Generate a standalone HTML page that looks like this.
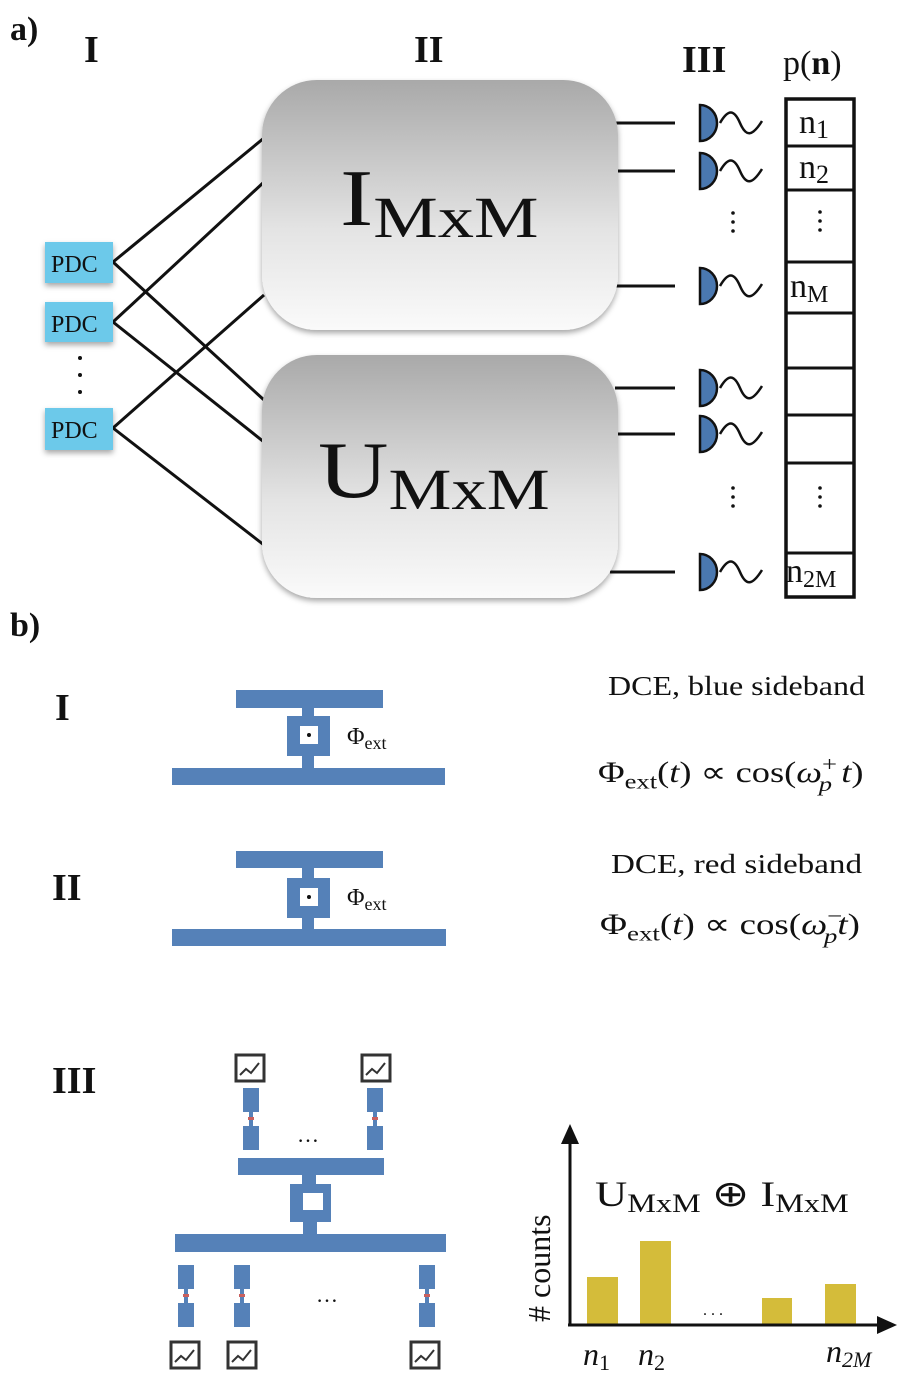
<!DOCTYPE html>
<html><head><meta charset="utf-8"><style>
html,body{margin:0;padding:0;background:#fff;}
svg{display:block;}
text{font-family:"Liberation Serif",serif;fill:#111;}
</style></head><body>
<svg width="900" height="1379" viewBox="0 0 900 1379" xmlns="http://www.w3.org/2000/svg">
<defs>
<linearGradient id="g" x1="0" y1="0" x2="0" y2="1">
<stop offset="0" stop-color="#a9a9a9"/><stop offset="0.6" stop-color="#e4e4e4"/><stop offset="1" stop-color="#fafafa"/>
</linearGradient>
<filter id="sh" x="-10%" y="-10%" width="120%" height="125%"><feDropShadow dx="0" dy="3" stdDeviation="3" flood-color="#000" flood-opacity="0.35"/></filter>
<g id="det"><path d="M700,0 v-18 a17,18 0 0 1 0,36 z" fill="#4a78b0" stroke="#111" stroke-width="2.5"/><path d="M720,0 c8,-14 14,-14 20,0 s12,14 22,-2" fill="none" stroke="#111" stroke-width="2.5"/></g>
<g id="meter"><rect x="0" y="0" width="28" height="26" fill="#fff" stroke="#333" stroke-width="3"/><path d="M4,20 l6,-6 l5,4 l8,-10" fill="none" stroke="#333" stroke-width="2"/></g>
<g id="res"><rect x="0" y="0" width="16" height="24" fill="#5581b8"/><rect x="6" y="24" width="4" height="14" fill="#5581b8"/><rect x="5" y="29" width="6" height="3" fill="#c9605e"/><rect x="0" y="38" width="16" height="24" fill="#5581b8"/></g>
</defs>

<text x="10" y="40" font-size="34" font-weight="bold">a)</text>
<text x="84" y="62" font-size="38" font-weight="bold">I</text>
<text x="414" y="62" font-size="38" font-weight="bold">II</text>
<text x="682" y="72" font-size="38" font-weight="bold">III</text>
<text x="783" y="74" font-size="34">p(<tspan font-weight="bold">n</tspan>)</text>

<g stroke="#111" stroke-width="3">
<line x1="113" y1="262" x2="264" y2="138"/>
<line x1="113" y1="262" x2="264" y2="400"/>
<line x1="113" y1="322" x2="264" y2="182"/>
<line x1="113" y1="322" x2="264" y2="442"/>
<line x1="113" y1="428" x2="264" y2="295"/>
<line x1="113" y1="428" x2="264" y2="545"/>
<line x1="615" y1="123" x2="675" y2="123"/>
<line x1="615" y1="171" x2="675" y2="171"/>
<line x1="615" y1="286" x2="675" y2="286"/>
<line x1="615" y1="388" x2="675" y2="388"/>
<line x1="615" y1="434" x2="675" y2="434"/>
<line x1="610" y1="572" x2="675" y2="572"/>
</g>
<rect x="262" y="80" width="356" height="250" rx="55" fill="url(#g)" filter="url(#sh)"/>
<rect x="262" y="355" width="356" height="243" rx="55" fill="url(#g)" filter="url(#sh)"/>
<g transform="translate(340,225) scale(1.25,1)"><text x="0" y="0" font-size="80">I<tspan font-size="58" dy="12">MxM</tspan></text></g>
<g transform="translate(318,497) scale(1.22,1)"><text x="0" y="0" font-size="80">U<tspan font-size="58" dy="12">MxM</tspan></text></g>

<g fill="#6cc9ea" filter="url(#sh)">
<rect x="45" y="242" width="68" height="41"/><rect x="45" y="302" width="68" height="40"/><rect x="45" y="408" width="68" height="42"/>
</g>
<g font-size="24"><text x="51" y="272">PDC</text><text x="51" y="332">PDC</text><text x="51" y="438">PDC</text></g>
<g fill="#111"><circle cx="80" cy="358" r="2"/><circle cx="80" cy="375" r="2"/><circle cx="80" cy="392" r="2"/></g>

<use href="#det" y="123"/><use href="#det" y="171"/><use href="#det" y="286"/>
<use href="#det" y="388"/><use href="#det" y="434"/><use href="#det" y="572"/>
<g fill="#111"><circle cx="733" cy="213" r="1.8"/><circle cx="733" cy="222" r="1.8"/><circle cx="733" cy="231" r="1.8"/>
<circle cx="733" cy="488" r="1.8"/><circle cx="733" cy="497" r="1.8"/><circle cx="733" cy="506" r="1.8"/>
<circle cx="820" cy="212" r="1.8"/><circle cx="820" cy="221" r="1.8"/><circle cx="820" cy="230" r="1.8"/>
<circle cx="820" cy="488" r="1.8"/><circle cx="820" cy="497" r="1.8"/><circle cx="820" cy="506" r="1.8"/></g>

<rect x="786" y="99" width="68" height="498" fill="none" stroke="#111" stroke-width="3.5"/>
<g stroke="#111" stroke-width="3">
<line x1="786" y1="146" x2="854" y2="146"/><line x1="786" y1="190" x2="854" y2="190"/>
<line x1="786" y1="262" x2="854" y2="262"/><line x1="786" y1="313" x2="854" y2="313"/>
<line x1="786" y1="368" x2="854" y2="368"/><line x1="786" y1="415" x2="854" y2="415"/>
<line x1="786" y1="463" x2="854" y2="463"/><line x1="786" y1="553" x2="854" y2="553"/>
</g>
<g font-size="34"><text x="799" y="133">n<tspan font-size="26" dy="5">1</tspan></text>
<text x="799" y="178">n<tspan font-size="26" dy="5">2</tspan></text>
<text x="790" y="297">n<tspan font-size="24" dy="5">M</tspan></text>
<text x="786" y="582">n<tspan font-size="24" dy="5">2M</tspan></text></g>

<text x="10" y="636" font-size="34" font-weight="bold">b)</text>
<text x="55" y="720" font-size="38" font-weight="bold">I</text>
<text x="52" y="900" font-size="38" font-weight="bold">II</text>
<text x="52" y="1093" font-size="38" font-weight="bold">III</text>

<g fill="#5581b8">
<rect x="236" y="690" width="147" height="18"/><rect x="302" y="708" width="12" height="10"/>
<rect x="287" y="716" width="43" height="40"/><rect x="302" y="756" width="12" height="12"/>
<rect x="172" y="768" width="273" height="17"/>
<rect x="236" y="851" width="147" height="17"/><rect x="302" y="868" width="12" height="10"/>
<rect x="287" y="878" width="43" height="40"/><rect x="302" y="918" width="12" height="12"/>
<rect x="172" y="929" width="274" height="17"/>
<rect x="238" y="1158" width="146" height="17"/><rect x="302" y="1175" width="14" height="10"/>
<rect x="290" y="1184" width="41" height="38"/><rect x="303" y="1222" width="14" height="12"/>
<rect x="175" y="1234" width="271" height="18"/>
</g>
<g fill="#fff"><rect x="300" y="726" width="18" height="18"/><rect x="300" y="888" width="18" height="18"/><rect x="303" y="1193" width="20" height="17"/></g>
<g fill="#111"><circle cx="309" cy="735" r="2"/><circle cx="309" cy="897" r="2"/></g>
<text x="347" y="744" font-size="24">Φ<tspan font-size="18" dy="5">ext</tspan></text>
<text x="347" y="905" font-size="24">Φ<tspan font-size="18" dy="5">ext</tspan></text>

<use href="#res" x="243" y="1088"/><use href="#res" x="367" y="1088"/>
<use href="#res" x="178" y="1265"/><use href="#res" x="234" y="1265"/><use href="#res" x="419" y="1265"/>
<use href="#meter" x="236" y="1055"/><use href="#meter" x="362" y="1055"/>
<use href="#meter" x="171" y="1342"/><use href="#meter" x="228" y="1342"/><use href="#meter" x="411" y="1342"/>
<text x="297" y="1142" font-size="22">…</text>
<text x="316" y="1302" font-size="22">…</text>

<text x="608" y="695" font-size="27" textLength="257" lengthAdjust="spacingAndGlyphs">DCE, blue sideband</text>
<text x="611" y="873" font-size="27" textLength="251" lengthAdjust="spacingAndGlyphs">DCE, red sideband</text>
<g transform="translate(598,782) scale(1.4,1.12)"><text x="0" y="0" font-size="26">Φ<tspan font-size="19" dy="6">ext</tspan><tspan dy="-6">(</tspan><tspan font-style="italic">t</tspan>) ∝ cos(<tspan font-style="italic">ω</tspan><tspan font-size="19" dy="-10">+</tspan><tspan font-size="19" font-style="italic" dx="-13" dy="18">p</tspan><tspan dy="-8" font-style="italic"> t</tspan>)</text></g>
<g transform="translate(600,934) scale(1.42,1.12)"><text x="0" y="0" font-size="26">Φ<tspan font-size="19" dy="6">ext</tspan><tspan dy="-6">(</tspan><tspan font-style="italic">t</tspan>) ∝ cos(<tspan font-style="italic">ω</tspan><tspan font-size="19" dy="-10">−</tspan><tspan font-size="19" font-style="italic" dx="-13" dy="18">p</tspan><tspan dy="-8" font-style="italic">t</tspan>)</text></g>

<g fill="#d4bc3a">
<rect x="587" y="1277" width="31" height="48"/><rect x="640" y="1241" width="31" height="84"/>
<rect x="762" y="1298" width="30" height="27"/><rect x="825" y="1284" width="31" height="41"/>
</g>
<line x1="570" y1="1140" x2="570" y2="1326" stroke="#111" stroke-width="3"/>
<line x1="568" y1="1325" x2="882" y2="1325" stroke="#111" stroke-width="3"/>
<polygon points="570,1124 561,1144 579,1144" fill="#111"/>
<polygon points="897,1325 877,1316 877,1334" fill="#111"/>
<text x="550" y="1322" font-size="32" transform="rotate(-90 550 1322)"># counts</text>
<g transform="translate(595,1206) scale(1.24,1)"><text x="0" y="0" font-size="36">U<tspan font-size="26" dy="6">MxM</tspan><tspan dy="-6"> ⊕ I</tspan><tspan font-size="26" dy="6">MxM</tspan></text></g>
<text x="703" y="1315" font-size="16">. . .</text>
<g font-size="32" font-style="italic"><text x="583" y="1365">n<tspan font-size="22" font-style="normal" dy="5">1</tspan></text>
<text x="638" y="1365">n<tspan font-size="22" font-style="normal" dy="5">2</tspan></text>
<text x="826" y="1362">n<tspan font-size="22" dy="5">2M</tspan></text></g>
</svg>
</body></html>
